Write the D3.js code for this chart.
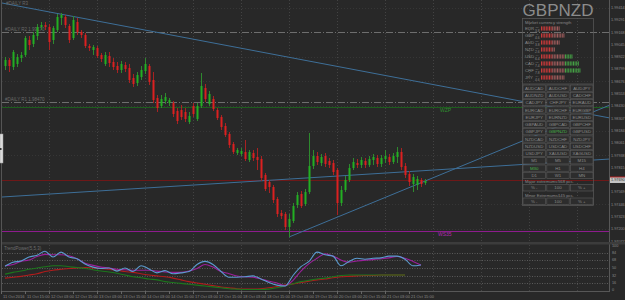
<!DOCTYPE html>
<html>
<head>
<meta charset="utf-8">
<script src="https://cdn.jsdelivr.net/npm/d3@7"></script>
<style>
  body { margin: 0; background: #282828; }
  svg { display: block; }
  text { font-family: "Liberation Sans", Arial, sans-serif; }
</style>
</head>
<body>
<div id="chart"></div>
<script>
const width = 625;
const height = 300;

// GBPNZD candles (bar index 0..105)
const opens = [1.9883,1.9889,1.9882,1.9885,1.9891,1.9894,1.9909,1.9905,1.9913,1.9922,1.9924,1.9922,1.9909,1.9919,1.9931,1.9932,1.9923,1.9911,1.9927,1.9917,
  1.9914,1.9903,1.9899,1.9901,1.9894,1.9885,1.9893,1.9887,1.9883,1.9879,1.9884,1.9881,1.9871,1.9866,1.9872,1.9878,1.9883,1.9869,1.9851,1.9843,
  1.9848,1.9846,1.9846,1.9838,1.9839,1.9837,1.9827,1.9843,1.9830,1.9843,1.9861,1.9845,1.9850,1.9839,1.9832,1.9823,1.9815,1.9805,1.9796,1.9795,
  1.9797,1.9789,1.9796,1.9792,1.9790,1.9774,1.9767,1.9762,1.9750,1.9736,1.9735,1.9722,1.9728,1.9744,1.9755,1.9745,1.9757,1.9783,1.9793,1.9786,
  1.9793,1.9788,1.9786,1.9779,1.9746,1.9759,1.9769,1.9781,1.9786,1.9784,1.9788,1.9784,1.9789,1.9791,1.9785,1.9790,1.9792,1.9787,1.9792,1.9797,
  1.9783,1.9775,1.9765,1.9764,1.9769,1.9766];
const highs = [1.9892,1.9891,1.9899,1.9895,1.9897,1.9913,1.9913,1.9917,1.9925,1.9927,1.9927,1.9925,1.9923,1.9935,1.9936,1.9934,1.9925,1.9933,1.9931,1.9919,
  1.9916,1.9905,1.9904,1.9903,1.9896,1.9897,1.9897,1.9891,1.9887,1.9888,1.9887,1.9885,1.9875,1.9877,1.9883,1.9891,1.9885,1.9877,1.9854,1.9854,
  1.9856,1.9851,1.9848,1.9841,1.9844,1.9841,1.9837,1.9846,1.9846,1.9876,1.9865,1.9858,1.9853,1.9841,1.9834,1.9826,1.9817,1.9807,1.9801,1.9801,
  1.9809,1.9799,1.9799,1.9801,1.9793,1.9776,1.9769,1.9764,1.9752,1.9739,1.9737,1.9735,1.9746,1.9757,1.9758,1.9760,1.9816,1.9799,1.9797,1.9795,
  1.9796,1.9791,1.9789,1.9781,1.9763,1.9773,1.9785,1.9791,1.9790,1.9792,1.9791,1.9793,1.9795,1.9794,1.9794,1.9799,1.9795,1.9796,1.9802,1.9801,
  1.9786,1.9778,1.9775,1.9773,1.9771,1.9770];
const lows = [1.9879,1.9877,1.9879,1.9882,1.9887,1.9892,1.9899,1.9902,1.9909,1.9919,1.9919,1.9899,1.9905,1.9917,1.9924,1.9921,1.9906,1.9909,1.9914,1.9911,
  1.9901,1.9898,1.9894,1.9891,1.9887,1.9883,1.9882,1.9879,1.9876,1.9876,1.9877,1.9866,1.9862,1.9863,1.9869,1.9875,1.9864,1.9846,1.9837,1.9841,
  1.9845,1.9843,1.9832,1.9825,1.9829,1.9827,1.9825,1.9832,1.9828,1.9841,1.9847,1.9843,1.9838,1.9829,1.9819,1.9812,1.9801,1.9795,1.9794,1.9793,
  1.9788,1.9787,1.9788,1.9779,1.9768,1.9758,1.9756,1.9746,1.9732,1.9730,1.9719,1.9712,1.9726,1.9741,1.9741,1.9743,1.9755,1.9780,1.9784,1.9783,
  1.9782,1.9781,1.9774,1.9734,1.9743,1.9757,1.9767,1.9779,1.9781,1.9781,1.9781,1.9782,1.9784,1.9782,1.9782,1.9786,1.9784,1.9785,1.9786,1.9779,
  1.9771,1.9763,1.9757,1.9759,1.9762,1.9764];
const closes = [1.9889,1.9883,1.9897,1.9892,1.9894,1.9911,1.9904,1.9914,1.9922,1.9924,1.9922,1.9907,1.9921,1.9932,1.9934,1.9924,1.9909,1.9929,1.9917,1.9914,
  1.9903,1.9901,1.9902,1.9893,1.9890,1.9894,1.9886,1.9882,1.9879,1.9885,1.9880,1.9869,1.9865,1.9874,1.9879,1.9885,1.9867,1.9849,1.9841,1.9850,
  1.9852,1.9849,1.9835,1.9828,1.9832,1.9830,1.9833,1.9835,1.9843,1.9863,1.9850,1.9855,1.9840,1.9831,1.9822,1.9814,1.9804,1.9797,1.9799,1.9798,
  1.9790,1.9797,1.9791,1.9789,1.9771,1.9760,1.9762,1.9749,1.9735,1.9733,1.9722,1.9730,1.9743,1.9754,1.9743,1.9757,1.9783,1.9793,1.9787,1.9792,
  1.9785,1.9784,1.9777,1.9746,1.9759,1.9769,1.9781,1.9787,1.9784,1.9789,1.9784,1.9790,1.9792,1.9785,1.9791,1.9793,1.9787,1.9793,1.9797,1.9782,
  1.9774,1.9767,1.9772,1.9770,1.9765,1.9768];

const priceTicks = [1.97077,1.97200,1.97323,1.97446,1.97569,1.97692,1.97815,1.97938,1.98061,1.98184,1.98307,
  1.98430,1.98553,1.98676,1.98799,1.98922,1.99045,1.99168,1.99291,1.99414];
const bidPrice = 1.9769;

// horizontal levels
const dailyLevels = [{ name: "#DAILY R2 1.99170", price: 1.9917 }, { name: "#DAILY R1 1.98470", price: 1.9847 }];
const weeklyPivot = { name: "WZP", price: 1.9842 };
const weeklySupport = { name: "WS35", price: 1.9718 };

// trend lines: [bar index, price]
const trendLines = [
  [[-0.75, 1.9946], [151.25, 1.9831]],
  [[-0.75, 1.9752], [151.25, 1.9790]],
  [[71, 1.9712], [151.25, 1.9844]]
];

// oscillator sub-window, one value every 2 bars
const oscStep = 2;
const oscFast = [54,63,66,75,79,88,75,86,75,71,59,52,49,50,43,50,42,55,48,39,44,37,39,42,58,65,58,42,29,29,
  30,32,25,17,11,9,33,53,65,86,80,77,55,65,72,70,72,73,77,77,70,55,57];
const oscSlow = [55,58,65,68,76,81,80,80,78,71,61,56,52,50,47,46,45,45,45,43,41,40,40,43,49,58,52,42,37,32,
  30,29,25,20,16,10,22,43,60,72,82,77,68,63,66,68,69,71,73,76,72,65,57];
const oscTrendUp = [36,40,43,47,50,53,55,55,53,51,49,46,43,41,38,34,30,28,25,23,19,17,15,13,11,9,7,5,3,2,
  1,1,1,2,5,9,14,19,22,25,27,30,33,34,34,34,34,34,34,34,34];
const oscTrendDown = [27,29,31,34,37,42,45,47,49,50,51,50,49,47,45,42,40,37,34,32,30,27,23,19,16,13,10,7,5,3,
  2,2,3,5,8,11,14,17,20,23,25,28,30,31,32,33,33,34,34,34,34];
const oscTicks = [100, 84, 68, 50, 32, 16, 0];

// date axis, one label every 6 bars starting at bar -1
const dateLabels = ["11 Oct 2016","11 Oct 15:00","12 Oct 03:00","12 Oct 15:00","13 Oct 03:00","13 Oct 15:00",
  "14 Oct 03:00","14 Oct 15:00","17 Oct 03:00","17 Oct 15:00","18 Oct 03:00","18 Oct 15:00","19 Oct 03:00",
  "19 Oct 15:00","20 Oct 03:00","20 Oct 15:00","21 Oct 03:00","21 Oct 15:00"];

// currency strength panel
const currencies = ["EUR","GBP","AUD","NZD","USD","CAD","CHF","JPY"];
const strength = [3.8,4.6,3.8,2.6,6.4,7.4,7.8,4.6];
const strengthPct = [38,41,58,38,44,68,80,74];
const pairButtons = ["AUDCAD","AUDCHF","AUDJPY","AUDNZD","AUDUSD","CADCHF","CADJPY","CHFJPY","EURAUD",
  "EURCAD","EURCHF","EURGBP","EURJPY","EURNZD","EURUSD","GBPAUD","GBPCAD","GBPCHF","GBPJPY","GBPNZD","GBPUSD",
  "NZDCAD","NZDCHF","NZDJPY","NZDUSD","USDCAD","USDCHF","USDJPY","XAUUSD","XAGUSD"];
const tfButtons = ["M1","M5","M15","M30","H1","H4","D1","W1","MN"];
const activeButtons = ["GBPNZD","M30"];
const extremums = [{ label: "Major extremums:", count: "568 pcs." }, { label: "Minor Extremums:", count: "145 pcs." }];
const extButtons = ["% -","100","% +"];

const svg = d3.select("#chart").append("svg")
  .attr("width", width).attr("height", height);

svg.append("rect").attr("width", width).attr("height", height).attr("fill", "#282828");

const xScale = d3.scaleLinear().domain([-1, 151.25]).range([1, 610]);
const yScale = d3.scaleLinear().domain([1.9720, 1.9949]).range([229, 0]);
const oscY = d3.scaleLinear().domain([0, 100]).range([290, 246]);

const main = svg.append("g");
main.append("clipPath").attr("id", "clipMain")
  .append("rect").attr("x", 2).attr("y", 0).attr("width", 607).attr("height", 241);
const sub = svg.append("g");
sub.append("clipPath").attr("id", "clipSub")
  .append("rect").attr("x", 2).attr("y", 245).attr("width", 607).attr("height", 46);

// grid
const gridIdx = d3.range(11, 152, 12);
main.selectAll(".vgrid").data(gridIdx).join("line")
  .attr("x1", d => Math.round(xScale(d)) + 0.5).attr("x2", d => Math.round(xScale(d)) + 0.5)
  .attr("y1", 0).attr("y2", 241)
  .attr("stroke", "#434343").attr("stroke-dasharray", "1,2");
main.selectAll(".hgrid").data(priceTicks.filter((d, i) => i % 2 === 1)).join("line")
  .attr("x1", 2).attr("x2", 609)
  .attr("y1", d => Math.round(yScale(d)) + 0.5).attr("y2", d => Math.round(yScale(d)) + 0.5)
  .attr("stroke", "#363636").attr("stroke-dasharray", "1,2");
sub.selectAll(".vgrid").data(gridIdx).join("line")
  .attr("x1", d => Math.round(xScale(d)) + 0.5).attr("x2", d => Math.round(xScale(d)) + 0.5)
  .attr("y1", 245).attr("y2", 291)
  .attr("stroke", "#434343").attr("stroke-dasharray", "1,2");
sub.selectAll(".ogrid").data(oscTicks.slice(1, -1)).join("line")
  .attr("x1", 2).attr("x2", 609)
  .attr("y1", d => Math.round(oscY(d)) + 0.5).attr("y2", d => Math.round(oscY(d)) + 0.5)
  .attr("stroke", "#5a5a5a").attr("stroke-dasharray", "1,1.5");

// pivot levels
main.selectAll(".daily").data(dailyLevels).join("line")
  .attr("x1", 2).attr("x2", 609)
  .attr("y1", d => Math.round(yScale(d.price)) + 0.5).attr("y2", d => Math.round(yScale(d.price)) + 0.5)
  .attr("stroke", "#6e6e6e").attr("stroke-dasharray", "7,2,1,2");
main.selectAll(".dailyLbl").data(dailyLevels).join("text")
  .attr("x", 5).attr("y", d => yScale(d.price) - 1.5)
  .attr("font-size", 4.5).attr("fill", "#6a6a6a").text(d => d.name);

main.append("line").attr("x1", 2).attr("x2", 609)
  .attr("y1", Math.round(yScale(weeklyPivot.price)) + 0.5).attr("y2", Math.round(yScale(weeklyPivot.price)) + 0.5)
  .attr("stroke", "#1d5e1d");
main.append("text").attr("x", 440).attr("y", yScale(weeklyPivot.price) + 4.5)
  .attr("font-size", 5).attr("fill", "#2f8f2f").text(weeklyPivot.name);

main.append("line").attr("x1", 2).attr("x2", 609)
  .attr("y1", Math.round(yScale(weeklySupport.price)) + 0.5).attr("y2", Math.round(yScale(weeklySupport.price)) + 0.5)
  .attr("stroke", "#8e1c8e");
main.append("text").attr("x", 438).attr("y", yScale(weeklySupport.price) + 5)
  .attr("font-size", 5).attr("fill", "#b02ab0").text(weeklySupport.name);

// bid line
main.append("line").attr("x1", 2).attr("x2", 609)
  .attr("y1", Math.round(yScale(bidPrice)) + 0.5).attr("y2", Math.round(yScale(bidPrice)) + 0.5)
  .attr("stroke", "#6e1818");

// trend lines
const tlLine = d3.line().x(d => xScale(d[0])).y(d => yScale(d[1]));
main.append("g").attr("clip-path", "url(#clipMain)")
  .selectAll("path").data(trendLines).join("path")
  .attr("d", tlLine).attr("fill", "none")
  .attr("stroke", "#3e6f98").attr("stroke-width", 1);
main.append("text").attr("x", 6).attr("y", 5)
  .attr("font-size", 4.5).attr("fill", "#6a6a6a").text("#DAILY R3");

// candles
const candles = d3.range(closes.length).map(i => ({ i, o: opens[i], h: highs[i], l: lows[i], c: closes[i] }));
const cg = main.append("g").attr("clip-path", "url(#clipMain)");
cg.selectAll(".wick").data(candles).join("line")
  .attr("x1", d => Math.round(xScale(d.i)) + 0.5).attr("x2", d => Math.round(xScale(d.i)) + 0.5)
  .attr("y1", d => yScale(d.h)).attr("y2", d => yScale(d.l))
  .attr("stroke", d => d.c >= d.o ? "#2e8a2e" : "#a82222");
cg.selectAll(".body").data(candles).join("rect")
  .attr("x", d => Math.round(xScale(d.i)) - 0.5).attr("width", 2)
  .attr("y", d => yScale(Math.max(d.o, d.c)))
  .attr("height", d => Math.max(1, Math.abs(yScale(d.o) - yScale(d.c))))
  .attr("fill", d => d.c >= d.o ? "#22b022" : "#dc2020");

// left border and scroll tab
svg.append("line").attr("x1", 1.5).attr("x2", 1.5).attr("y1", 0).attr("y2", 291).attr("stroke", "#555");
svg.append("rect").attr("x", 0).attr("y", 134).attr("width", 3).attr("height", 29)
  .attr("fill", "#dcdcdc").attr("stroke", "#9a9a9a").attr("stroke-width", 0.5);
svg.append("rect").attr("x", 0).attr("y", 148).attr("width", 1.5).attr("height", 2).attr("fill", "#333");

// right price axis
svg.append("line").attr("x1", 609.5).attr("x2", 609.5).attr("y1", 0).attr("y2", 291).attr("stroke", "#575757");
svg.append("g").selectAll("text").data(priceTicks).join("text")
  .attr("x", 611).attr("y", d => yScale(d)).attr("dy", "0.35em")
  .attr("font-size", 3.8).attr("fill", "#8a8a8a").text(d => d.toFixed(5));
svg.append("rect").attr("x", 610).attr("y", yScale(bidPrice) - 3).attr("width", 15).attr("height", 6)
  .attr("fill", "#c4c4c4");
svg.append("line").attr("x1", 610).attr("x2", 625).attr("y1", yScale(bidPrice) - 3).attr("y2", yScale(bidPrice) - 3)
  .attr("stroke", "#b02020");
svg.append("text").attr("x", 611).attr("y", yScale(bidPrice)).attr("dy", "0.35em")
  .attr("font-size", 3.8).attr("fill", "#333").text(bidPrice.toFixed(5));

// sub-window separator
svg.append("rect").attr("x", 2).attr("y", 242).attr("width", 623).attr("height", 2.5).attr("fill", "#3c3c3c");
svg.append("text").attr("x", 4).attr("y", 250)
  .attr("font-size", 4.5).attr("fill", "#6e6e6e").text("TrendPower(5,5,3)");

// oscillator lines
const osc = sub.append("g").attr("clip-path", "url(#clipSub)");
const oscLine = d3.line().x((d, k) => xScale(k * oscStep)).y(d => oscY(d)).curve(d3.curveMonotoneX);
[[oscTrendDown, "#b01c1c"], [oscTrendUp, "#1c761c"], [oscSlow, "#9c1f9c"], [oscFast, "#5b9bd0"]]
  .forEach(([vals, col]) => {
    osc.append("path").datum(vals).attr("d", oscLine)
      .attr("fill", "none").attr("stroke", col).attr("stroke-width", 1.1);
  });
svg.append("g").selectAll("text").data(oscTicks).join("text")
  .attr("x", 612).attr("y", d => oscY(d)).attr("dy", "0.35em")
  .attr("font-size", 3.8).attr("fill", "#8a8a8a").text(d => d);

// date axis
svg.append("line").attr("x1", 2).attr("x2", 610).attr("y1", 291.5).attr("y2", 291.5).attr("stroke", "#575757");
const dateIdx = dateLabels.map((d, m) => -1 + 6 * m);
svg.append("g").selectAll("line").data(dateIdx).join("line")
  .attr("x1", d => Math.round(xScale(d)) + 0.5).attr("x2", d => Math.round(xScale(d)) + 0.5)
  .attr("y1", 291).attr("y2", 294).attr("stroke", "#666");
svg.append("g").selectAll("text").data(dateLabels).join("text")
  .attr("x", (d, m) => xScale(dateIdx[m]) + 2).attr("y", 297.5)
  .attr("font-size", 4).attr("fill", "#8a8a8a").text(d => d);

// dashboard panel
const panel = svg.append("g");
panel.append("text").attr("x", 558).attr("y", 15.5).attr("text-anchor", "middle")
  .attr("font-size", 17).attr("fill", "#8c8c8c").text("GBPNZD");
panel.append("rect").attr("x", 522.5).attr("y", 18.5).attr("width", 71).attr("height", 187)
  .attr("fill", "none").attr("stroke", "#5a5a5a").attr("stroke-width", 0.7);
panel.append("line").attr("x1", 522.5).attr("x2", 593.5).attr("y1", 84).attr("y2", 84)
  .attr("stroke", "#5a5a5a").attr("stroke-width", 0.7);
panel.append("text").attr("x", 525).attr("y", 24.2).attr("font-size", 4.2).attr("fill", "#8a8a8a")
  .text("Market currency strength");

const rowY = d3.scalePoint().domain(currencies).range([30, 79]);
const barX = d3.scaleLinear().domain([0, 10]).range([541, 591]);
const rows = panel.selectAll(".cur").data(currencies).join("g");
rows.append("text").attr("x", 525).attr("y", d => rowY(d))
  .attr("font-size", 4.3).attr("fill", "#8a8a8a").text(d => d);
rows.append("text").attr("x", 535).attr("y", d => rowY(d) + 2.1)
  .attr("font-size", 3.3).attr("fill", "#8a8a8a").text((d, k) => strength[k].toFixed(1));
rows.append("text").attr("x", 535.5).attr("y", d => rowY(d) - 2.3)
  .attr("font-size", 2.5).attr("fill", "#7a7a7a").text((d, k) => strengthPct[k]);
rows.each(function (d, k) {
  const segs = d3.range(barX(0), barX(strength[k]), 1.6);
  d3.select(this).selectAll("rect").data(segs).join("rect")
    .attr("x", s => s).attr("y", rowY(d) - 3.6).attr("width", 1).attr("height", 4.2)
    .attr("fill", s => s - barX(0) < 10 ? "#c83a3a" : (s - barX(0) < 24 ? "#9e5c5c" : "#45a045"));
});

const buttons = pairButtons.concat(tfButtons);
const colX = d3.scaleBand().domain([0, 1, 2]).range([523, 593]).paddingInner(0.06);
const rowB = d3.scaleBand().domain(d3.range(13)).range([85, 178.5]).paddingInner(0.14);
const btn = panel.selectAll(".btn").data(buttons).join("g")
  .attr("transform", (d, k) => `translate(${colX(k % 3)},${rowB(Math.floor(k / 3))})`);
btn.append("rect").attr("width", colX.bandwidth()).attr("height", rowB.bandwidth())
  .attr("fill", "#2d2d2d").attr("stroke", "#5c5c5c").attr("stroke-width", 0.6);
btn.append("text").attr("x", colX.bandwidth() / 2).attr("y", rowB.bandwidth() / 2).attr("dy", "0.36em")
  .attr("text-anchor", "middle").attr("font-size", 4.4)
  .attr("fill", d => activeButtons.includes(d) ? "#48b048" : "#8a8a8a").text(d => d);

const extY = d3.scaleBand().domain([0, 1]).range([179, 206]).paddingInner(0);
extremums.forEach((e, k) => {
  const y0 = extY(k);
  panel.append("text").attr("x", 525).attr("y", y0 + 4).attr("font-size", 4.2).attr("fill", "#8a8a8a")
    .text(e.label);
  panel.append("text").attr("x", 558).attr("y", y0 + 4).attr("font-size", 4.2).attr("fill", "#8a8a8a")
    .text(e.count);
  const g = panel.selectAll(".ext" + k).data(extButtons).join("g")
    .attr("transform", (d, j) => `translate(${colX(j)},${y0 + 5.5})`);
  g.append("rect").attr("width", colX.bandwidth()).attr("height", 6.5)
    .attr("fill", "#2d2d2d").attr("stroke", "#5c5c5c").attr("stroke-width", 0.6);
  g.append("text").attr("x", colX.bandwidth() / 2).attr("y", 3.25).attr("dy", "0.36em")
    .attr("text-anchor", "middle").attr("font-size", 4.4).attr("fill", "#8a8a8a").text(d => d);
});
</script>
</body>
</html>
